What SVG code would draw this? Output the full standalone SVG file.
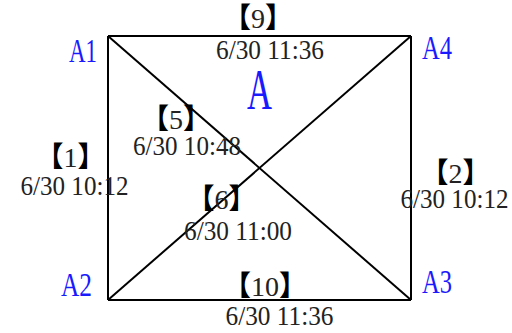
<svg xmlns="http://www.w3.org/2000/svg" width="512" height="333" viewBox="0 0 512 333">
<style>
.t{font-family:"Liberation Serif",serif;font-size:28px;fill:#222;text-anchor:middle}
.b{font-family:"Liberation Serif",serif;font-size:28px;fill:#222;text-anchor:middle}
.cj{font-family:"Noto Sans CJK TC","Noto Sans CJK SC",sans-serif;fill:#000;font-weight:bold}
.l{font-family:"Liberation Serif",serif;font-size:33px;fill:#1a1aff;text-anchor:middle}
.edge{stroke:#000;stroke-width:2;fill:none}
</style>
<rect width="512" height="333" fill="#fff"/>
<g id="connectors">
<line class="edge" x1="108" y1="36" x2="411" y2="36"/>
<line class="edge" x1="108" y1="300" x2="411" y2="300"/>
<line class="edge" x1="108" y1="36" x2="108" y2="300"/>
<line class="edge" x1="411" y1="36" x2="411" y2="300"/>
<line class="edge" x1="108" y1="36" x2="411" y2="300"/>
<line class="edge" x1="108" y1="300" x2="411" y2="36"/>
</g>
<g id="A1"><text class="l" x="83" y="62" textLength="28" lengthAdjust="spacingAndGlyphs">A1</text></g>
<g id="A4"><text class="l" x="437" y="59" textLength="30" lengthAdjust="spacingAndGlyphs">A4</text></g>
<g id="A2"><text class="l" x="76.5" y="296" textLength="31" lengthAdjust="spacingAndGlyphs">A2</text></g>
<g id="A3"><text class="l" x="437" y="293" textLength="30" lengthAdjust="spacingAndGlyphs">A3</text></g>
<g id="A"><text class="l" x="259.5" y="109" style="font-size:56px" textLength="25" lengthAdjust="spacingAndGlyphs">A</text></g>
<g id="e9"><text class="b" x="258" y="28"><tspan class="cj">【</tspan>9<tspan class="cj">】</tspan></text><text class="t" x="270" y="59" textLength="108" lengthAdjust="spacingAndGlyphs">6/30 11:36</text></g>
<g id="e5"><text class="b" x="176" y="129"><tspan class="cj">【</tspan>5<tspan class="cj">】</tspan></text><text class="t" x="187" y="155" textLength="108" lengthAdjust="spacingAndGlyphs">6/30 10:48</text></g>
<g id="e1"><text class="b" x="70.5" y="167"><tspan class="cj">【</tspan>1<tspan class="cj">】</tspan></text><text class="t" x="74.5" y="195" textLength="108" lengthAdjust="spacingAndGlyphs">6/30 10:12</text></g>
<g id="e6"><text class="b" x="221.5" y="209"><tspan class="cj">【</tspan>6<tspan class="cj">】</tspan></text><text class="t" x="238" y="240" textLength="108" lengthAdjust="spacingAndGlyphs">6/30 11:00</text></g>
<g id="e2"><text class="b" x="455.5" y="183"><tspan class="cj">【</tspan>2<tspan class="cj">】</tspan></text><text class="t" x="454.5" y="208" textLength="108" lengthAdjust="spacingAndGlyphs">6/30 10:12</text></g>
<g id="e10"><text class="b" x="265" y="296"><tspan class="cj">【</tspan>10<tspan class="cj">】</tspan></text><text class="t" x="279.5" y="325" textLength="108" lengthAdjust="spacingAndGlyphs">6/30 11:36</text></g>
</svg>
